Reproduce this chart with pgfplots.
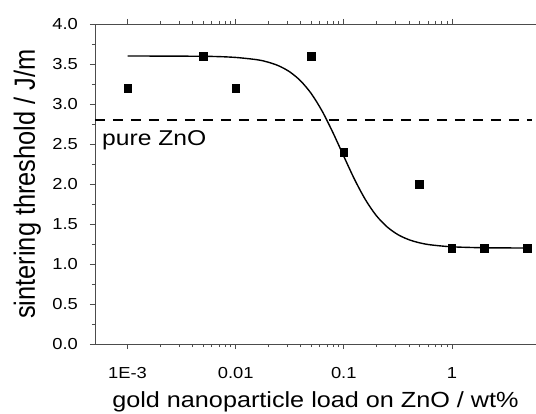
\documentclass[border=0pt]{standalone}
\usepackage{fontspec}
\setmainfont[FakeStretch=1.15]{Liberation Sans}
\newfontfamily\plainsans{Liberation Sans}
\usepackage{graphicx}
\usepackage{pgfplots}
\pgfplotsset{compat=1.18}

\begin{document}
\begin{tikzpicture}
\begin{axis}[
    scale only axis,
    width=441bp, height=320bp,
    xmode=log,
    xmin=0.0005, xmax=6,
    ymin=0, ymax=4,
    xtick={0.001,0.01,0.1,1},
    xticklabels={1E-3,0.01,0.1,1},
    ytick={0,0.5,...,4},
    minor y tick num=1,
    /pgf/number format/assume math mode=true,
    tick align=outside,
    xtick pos=both,
    ytick pos=left,
    major tick length=5bp,
    minor tick length=3bp,
    axis line style={line width=0.9pt, black!70},
    every tick/.style={black!70, line width=0.7pt},
    ticklabel style={font=\fontsize{16}{18}\selectfont},
    xticklabel style={inner sep=0pt, yshift=-18bp},
    yticklabel style={/pgf/number format/fixed, /pgf/number format/fixed zerofill,
        /pgf/number format/precision=1, inner sep=0pt, xshift=-12bp},
    xlabel={gold nanoparticle load on ZnO / wt\%},
    ylabel={\scalebox{1}[1.15]{\plainsans sintering threshold / J/m}},
    xlabel style={font=\fontsize{22}{24}\selectfont, at={(axis description cs:0.5,0)},
        anchor=base, yshift=-63.5bp, inner sep=0pt},
    ylabel style={font=\fontsize{25.5}{27}\selectfont, at={(axis description cs:-0.1361,0.5)},
        anchor=base, inner sep=0pt},
]
% fitted curve
\addplot[black, line width=1.4pt, smooth] coordinates {
    (0.001,3.600) (0.003162,3.598) (0.00631,3.594) (0.01,3.582)
    (0.01585,3.553) (0.01995,3.523) (0.02512,3.476) (0.03162,3.402)
    (0.03981,3.290) (0.05012,3.129) (0.0631,2.911) (0.07943,2.642)
    (0.1,2.347) (0.1259,2.057) (0.1585,1.805) (0.1995,1.607)
    (0.2512,1.465) (0.3162,1.368) (0.3981,1.305) (0.5012,1.265)
    (0.631,1.240) (1,1.215) (1.995,1.203) (5.012,1.200)
};
% pure ZnO reference
\addplot[black, line width=1.4pt, dash pattern=on 10bp off 8bp] coordinates {
    (0.0005,2.8) (5.5,2.8)
};
% measured
\addplot[only marks, mark=square*, mark size=3.8bp, black] coordinates {
    (0.001,3.2) (0.005,3.6) (0.01,3.2) (0.05,3.6) (0.1,2.4)
    (0.5,2.0) (1,1.2) (2,1.2) (5,1.2)
};
\node[anchor=base west, font=\fontsize{21.5}{23}\selectfont, inner sep=0pt]
    at (axis cs:0.00058,2.475) {pure ZnO};
\end{axis}
\pgfresetboundingbox
\path ([shift={(-95bp,-70bp)}]current axis.south west) rectangle
      ([shift={(0bp,24bp)}]current axis.north east);
\end{tikzpicture}
\end{document}
